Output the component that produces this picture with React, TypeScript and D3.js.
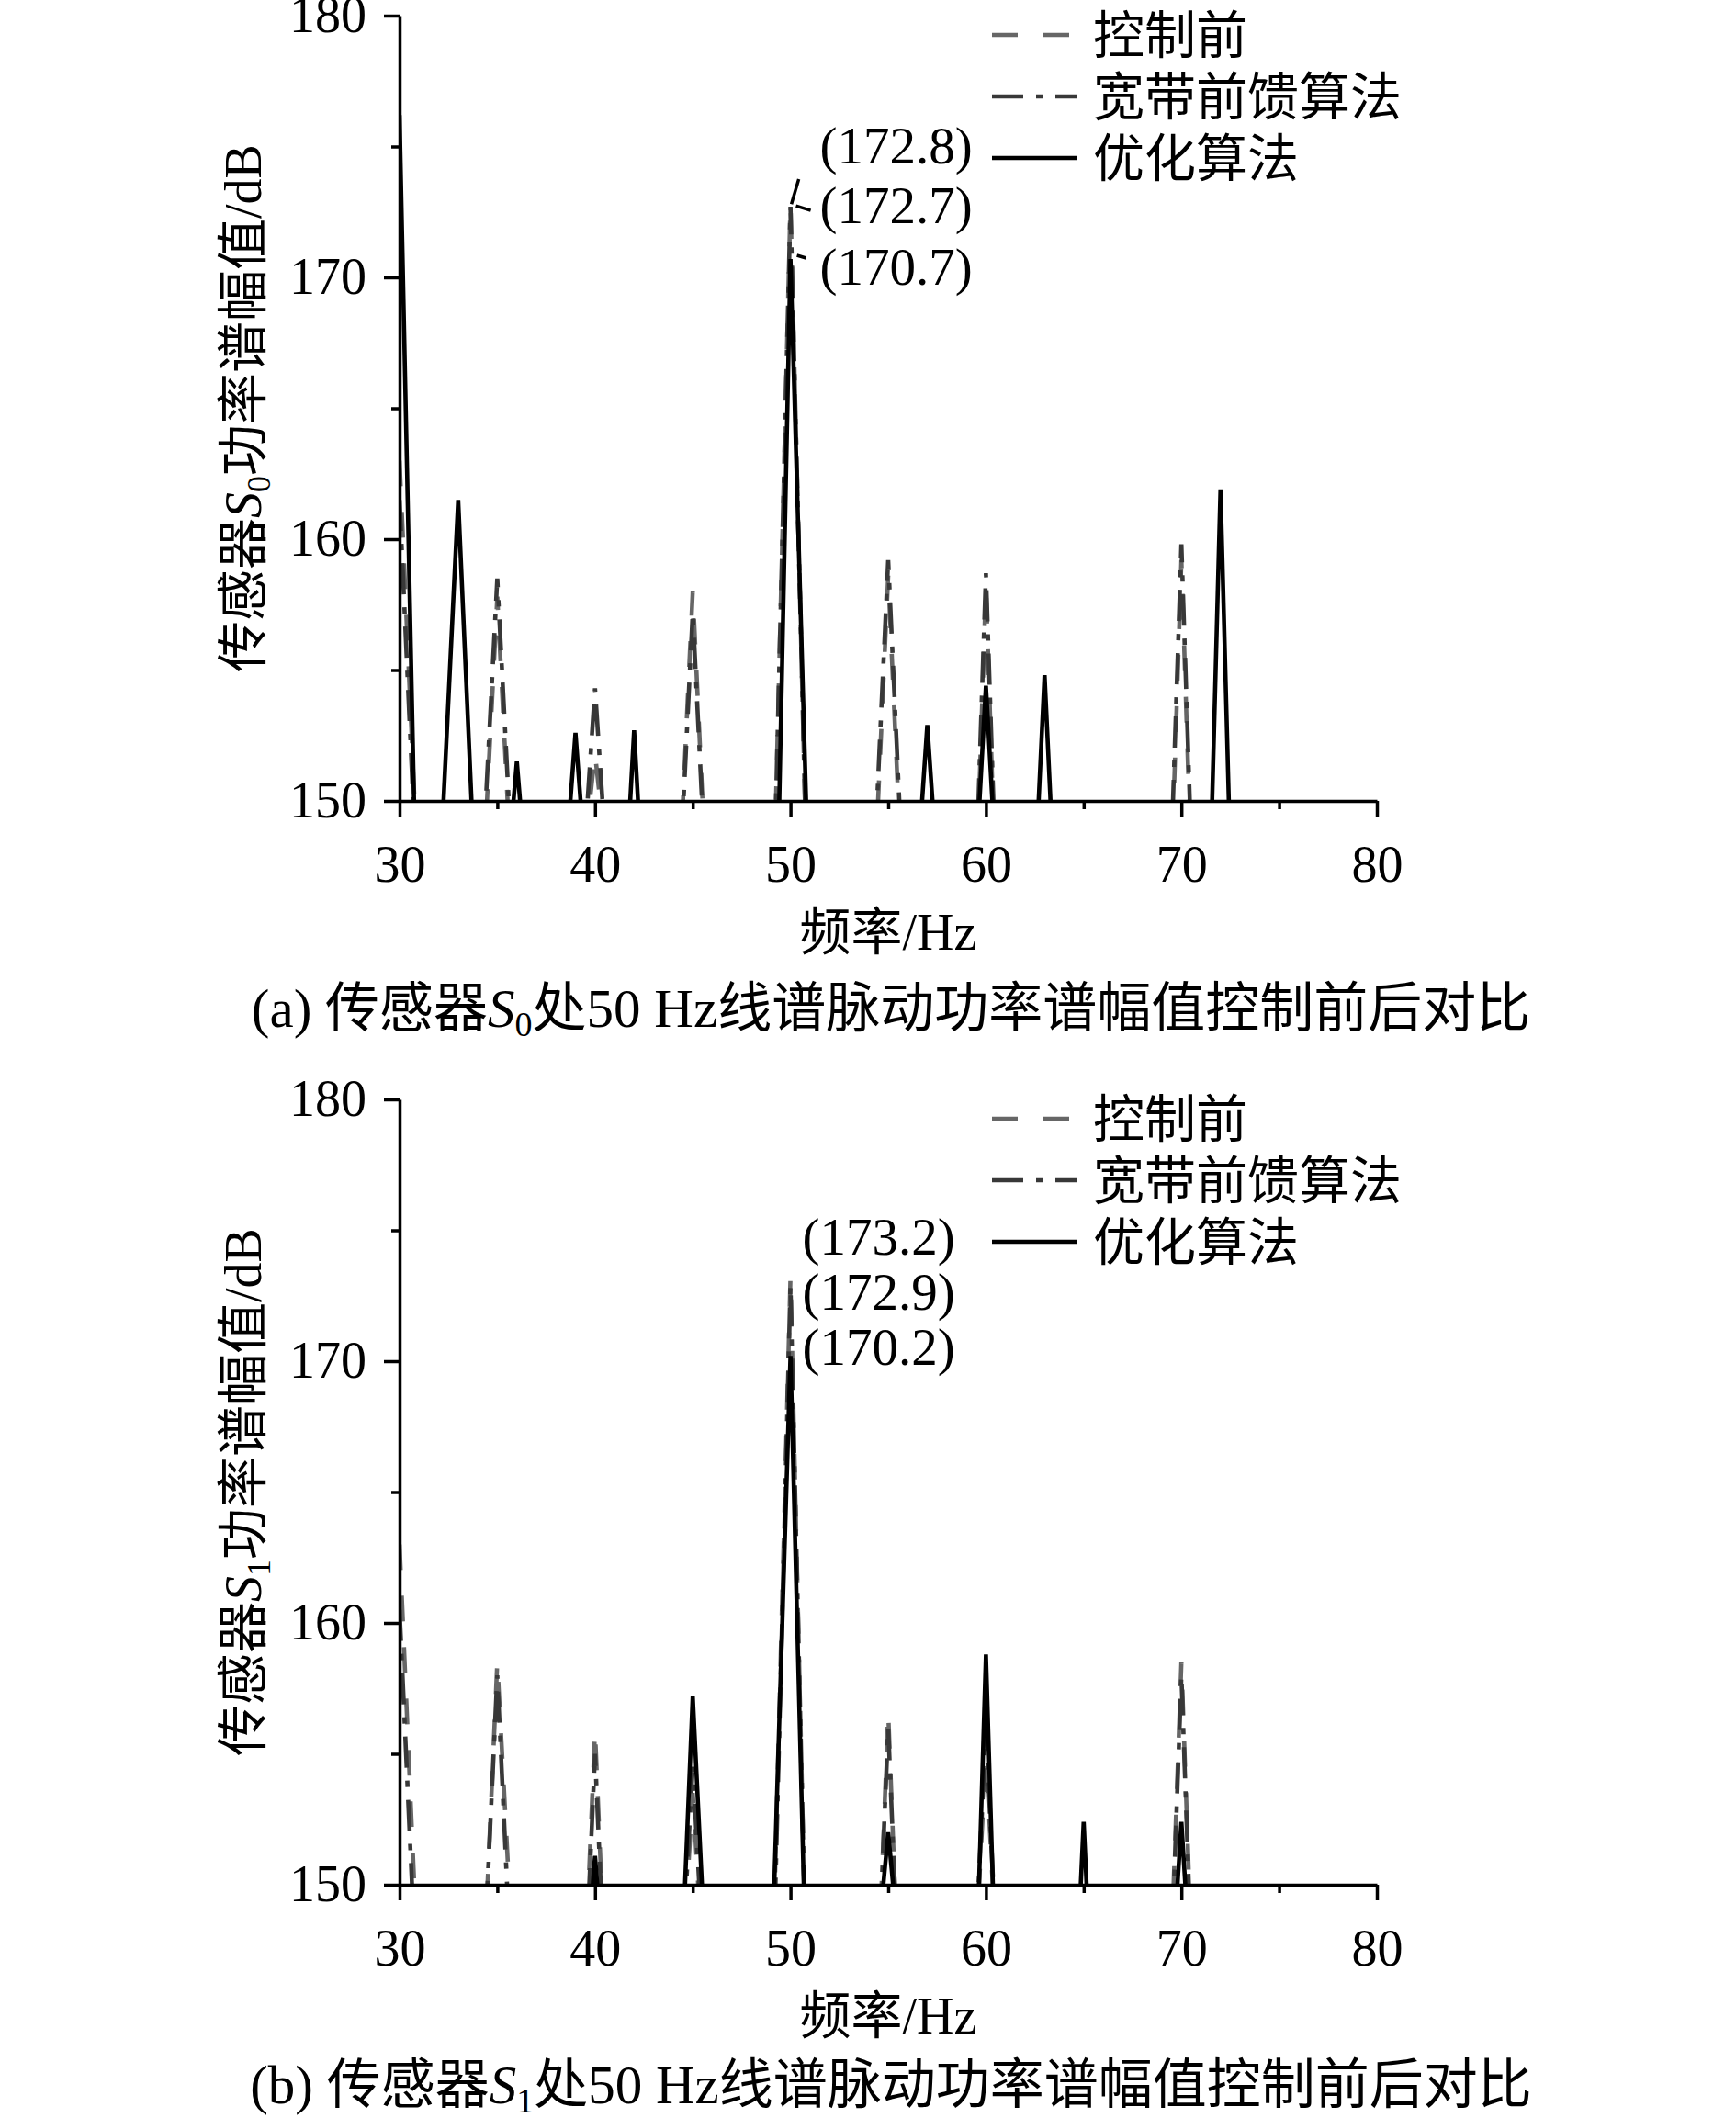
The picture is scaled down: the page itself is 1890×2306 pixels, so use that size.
import * as d3 from 'd3'
import { useEffect, useRef } from 'react'

// frequency grid (Hz), one value per series at each frequency
const freqs = [
  30, 31, 32, 33, 34, 35, 36, 37, 38, 39, 40, 41, 42, 43, 44, 45, 46, 47, 48, 49,
  50, 51, 52, 53, 54, 55, 56, 57, 58, 59, 60, 61, 62, 63, 64, 65, 66, 67, 68, 69,
  70, 71, 72, 73, 74, 75, 76, 77, 78, 79, 80,
]

// sensor S0 (values below 150 dB are clipped by the axis)
const s0Before = [
  163.0, 146, 138, 138, 143, 157.8, 143, 138, 138, 145,
  151.8, 145, 138, 138, 142, 158.0, 142, 138, 138, 142,
  172.8, 142, 138, 138, 142, 158.6, 142, 138, 138, 135,
  158.2, 135, 138, 138, 138, 138, 138, 138, 138, 136,
  159.2, 136, 138, 138, 137, 137, 137, 137, 137, 137, 137,
]
const s0Broadband = [
  161.5, 145, 137, 137, 144, 158.5, 144, 137, 137, 143,
  154.3, 143, 137, 137, 142, 157.2, 142, 137, 137, 142,
  172.7, 142, 137, 137, 143, 159.2, 143, 137, 137, 136,
  158.7, 136, 137, 137, 137, 137, 137, 137, 137, 137,
  159.8, 137, 136, 136, 136, 136, 136, 136, 136, 136, 136,
]
const s0Optimized = [
  176.2, 140.8, 146.2, 161.5, 144.6, 142.7, 151.5, 142.5, 142.6, 152.6,
  142.6, 139.2, 152.7, 139.2, 138, 138, 138, 138, 138, 134.5,
  170.7, 144.8, 138, 138, 138, 138, 142, 152.9, 142, 141,
  154.4, 141, 139, 154.8, 139, 138, 138, 138, 138, 138,
  138, 134, 161.9, 134, 137, 137, 137, 137, 137, 137, 137,
]

// sensor S1
const s1Before = [
  163.0, 145.7, 137, 137, 141.5, 158.5, 144.3, 137, 137, 138,
  155.9, 138, 137, 137, 141, 153.5, 141, 137, 137, 144.2,
  173.2, 140, 137, 137, 137, 156.6, 137, 137, 137, 140.7,
  155.0, 140.7, 137, 137, 137, 137, 137, 137, 137, 137.2,
  158.5, 137.2, 137, 137, 137, 137, 137, 137, 137, 137, 137,
]
const s1Broadband = [
  160.5, 144, 137, 137, 142, 158.0, 142, 137, 137, 138,
  155.0, 138, 137, 137, 141, 154.5, 141, 137, 137, 143,
  172.9, 140, 137, 137, 138, 156.0, 138, 137, 137, 140,
  156.0, 140, 137, 137, 137, 137, 137, 137, 137, 137,
  158.0, 137, 137, 137, 137, 137, 137, 137, 137, 137, 137,
]
const s1Optimized = [
  137, 137, 137, 137, 137, 137, 137, 137, 137, 141.5,
  151.1, 141.5, 137, 137, 139, 157.2, 141.9, 137, 137, 145.8,
  170.2, 140.5, 137, 137, 144, 152.0, 144, 137, 137, 134,
  158.8, 134, 137, 137, 136.4, 152.4, 136.4, 137, 137, 140.4,
  152.4, 140.4, 137, 137, 137, 137, 137, 137, 137, 137, 137,
]

const xTicks = [30, 40, 50, 60, 70, 80]
const xMinor = [35, 45, 55, 65, 75]
const yTicks = [150, 160, 170, 180]
const yMinor = [155, 165, 175]
const legendNames = ['控制前', '宽带前馈算法', '优化算法']
const s0Notes = ['(172.8)', '(172.7)', '(170.7)']
const s1Notes = ['(173.2)', '(172.9)', '(170.2)']

const FONT = "'Times New Roman', 'Liberation Serif', 'Noto Sans CJK SC', serif"
const width = 1890
const height = 2306
const left = 435
const right = 1499
const plotH = 855

const styles = [
  { stroke: '#666', dash: '28 28' },
  { stroke: '#383838', dash: '34 14 7 14' },
  { stroke: '#000', dash: undefined },
]

type PanelProps = {
  top: number
  series: number[][]
  sensor: string
  letter: string
  notes: string[]
  noteX: number
  noteY: number[]
  leaders: boolean
  captionGap: number
}

function Panel({ top, series, sensor, letter, notes, noteX, noteY, leaders, captionGap }: PanelProps) {
  const x = d3.scaleLinear([30, 80], [left, right])
  const y = d3.scaleLinear([150, 180], [top + plotH, top])

  const gx = useRef<SVGGElement>(null)
  const gxm = useRef<SVGGElement>(null)
  const gy = useRef<SVGGElement>(null)
  const gym = useRef<SVGGElement>(null)

  useEffect(() => {
    const fix = (g: any) => {
      g.attr('font-family', FONT).attr('font-size', 56)
      g.select('.domain').attr('stroke-width', 3.5)
      g.selectAll('.tick line').attr('stroke-width', 3.5)
      g.selectAll('.tick text').attr('fill', '#000')
    }
    fix(
      d3.select(gx.current!).call(
        d3.axisBottom(x).tickValues(xTicks).tickSize(17).tickSizeOuter(0).tickPadding(31).tickFormat(d3.format('d'))
      )
    )
    fix(
      d3.select(gy.current!).call(
        d3.axisLeft(y).tickValues(yTicks).tickSize(17).tickSizeOuter(0).tickPadding(19).tickFormat(d3.format('d'))
      )
    )
    const m1 = d3.select(gxm.current!).call(d3.axisBottom(x).tickValues(xMinor).tickSize(9).tickFormat(() => ''))
    m1.select('.domain').remove()
    m1.selectAll('.tick line').attr('stroke-width', 3.5)
    const m2 = d3.select(gym.current!).call(d3.axisLeft(y).tickValues(yMinor).tickSize(9).tickFormat(() => ''))
    m2.select('.domain').remove()
    m2.selectAll('.tick line').attr('stroke-width', 3.5)
  }, [top])

  const line = d3
    .line<number>()
    .x((_, i) => x(freqs[i]))
    .y((d) => y(d))

  const clipId = `clip-${letter}`
  const x50 = x(50)
  const peaks = series.map((s) => s[freqs.indexOf(50)])

  return (
    <g>
      <defs>
        <clipPath id={clipId}>
          <rect x={left} y={top} width={right - left} height={plotH} />
        </clipPath>
      </defs>
      <g clipPath={`url(#${clipId})`} fill="none" strokeWidth={4.6} strokeLinejoin="miter">
        {series.map((s, k) => (
          <path key={k} d={line(s) ?? ''} stroke={styles[k].stroke} strokeDasharray={styles[k].dash} />
        ))}
      </g>
      <g ref={gx} transform={`translate(0,${top + plotH})`} />
      <g ref={gxm} transform={`translate(0,${top + plotH})`} />
      <g ref={gy} transform={`translate(${left},0)`} />
      <g ref={gym} transform={`translate(${left},0)`} />

      {/* legend */}
      <g fontFamily={FONT} fontSize={56}>
        {legendNames.map((name, k) => {
          const ly = top + [21, 88, 155][k]
          return (
            <g key={name}>
              <line x1={1080} x2={1172} y1={ly} y2={ly} stroke={styles[k].stroke} strokeWidth={4.6} strokeDasharray={styles[k].dash} />
              <text x={1190} y={ly} dy="0.36em">
                {name}
              </text>
            </g>
          )
        })}
      </g>

      {/* peak values at 50 Hz */}
      <g fontFamily={FONT} fontSize={57}>
        {notes.map((t, k) => (
          <text key={t} x={x50 + noteX} y={top + noteY[k]} dy="0.33em">
            {t}
          </text>
        ))}
      </g>
      {leaders && (
        <g stroke="#000" strokeWidth={3.5}>
          <line x1={x50 + 1} y1={y(peaks[0])} x2={x50 + 9} y2={top + 178} />
          <line x1={x50 + 6} y1={y(peaks[1]) - 1} x2={x50 + 22} y2={y(peaks[1]) + 4} />
          <line x1={x50 + 7} y1={y(peaks[2]) - 4} x2={x50 + 17} y2={y(peaks[2]) - 1} />
        </g>
      )}

      {/* axis titles */}
      <text x={(left + right) / 2} y={top + plotH + 162} textAnchor="middle" fontFamily={FONT} fontSize={56}>
        频率/Hz
      </text>
      <text
        transform={`translate(284,${top + plotH / 2}) rotate(-90)`}
        textAnchor="middle"
        fontFamily={FONT}
        fontSize={56}
      >
        传感器<tspan fontStyle="italic">S</tspan>
        <tspan fontSize={36} dy={10}>
          {sensor}
        </tspan>
        <tspan dy={-10}>功率谱幅值/dB</tspan>
      </text>
      <text x={970} y={top + plotH + captionGap} textAnchor="middle" fontFamily={FONT} fontSize={59}>
        ({letter}) 传感器<tspan fontStyle="italic">S</tspan>
        <tspan fontSize={38} dy={10}>
          {sensor}
        </tspan>
        <tspan dy={-10}>处50 Hz线谱脉动功率谱幅值控制前后对比</tspan>
      </text>
    </g>
  )
}

export default function App() {
  return (
    <svg
      width={width}
      height={height}
      style={{ position: 'absolute', left: 0, top: 0, background: '#fff' }}
    >
      <Panel
        top={17}
        series={[s0Before, s0Broadband, s0Optimized]}
        sensor="0"
        letter="a"
        notes={s0Notes}
        noteX={32}
        noteY={[142, 207, 274]}
        leaders
        captionGap={246}
      />
      <Panel
        top={1197}
        series={[s1Before, s1Broadband, s1Optimized]}
        sensor="1"
        letter="b"
        notes={s1Notes}
        noteX={13}
        noteY={[150, 210, 270]}
        leaders={false}
        captionGap={238}
      />
    </svg>
  )
}
